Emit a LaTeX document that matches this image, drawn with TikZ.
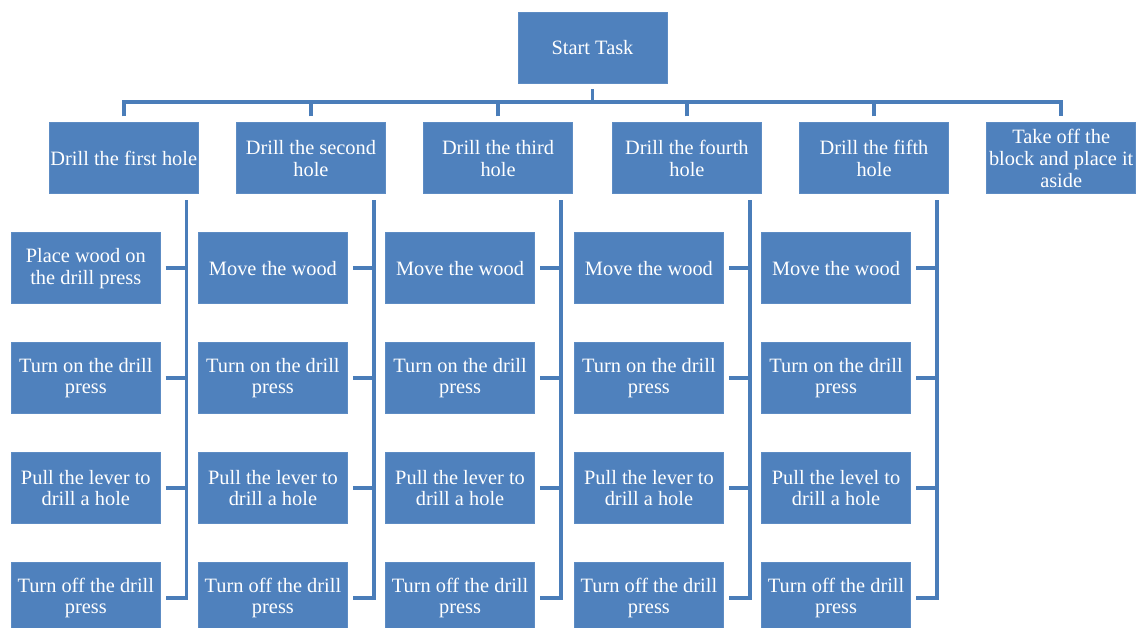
\documentclass[tikz,border=0pt]{standalone}
\usepackage{fontspec}
\setmainfont{Liberation Serif}
\usepackage{tikz}
\usetikzlibrary{positioning,calc}

\definecolor{wbsblue}{HTML}{4F81BD}
\definecolor{wbsedge}{HTML}{5D8CC4}
\definecolor{wbsline}{HTML}{4A7DB9}

\begin{document}
\begin{tikzpicture}[
    node distance=0.76cm and 0.745cm,
    mainbox/.style={rectangle, draw=wbsedge, line width=0.5pt, fill=wbsblue, text=white,
        minimum width=2.98cm, minimum height=1.42cm, inner sep=0pt, align=center,
        font=\fontsize{11.6}{12.4}\selectfont},
    holebox/.style={mainbox},
    actbox/.style={mainbox},
    link/.style={draw=wbsline, line width=2pt},
]
    \useasboundingbox (-11.85,0.95) rectangle (10.95,-11.61);

    % Top task
    \node[mainbox] (start) {Start Task};

    % Hole steps
    \node[holebox, below left=0.78cm and 0.39cm of start.south, anchor=north east] (hole3) {Drill the third\\hole};
    \node[holebox, left=of hole3] (hole2) {Drill the second\\hole};
    \node[holebox, left=of hole2] (hole1) {Drill the first hole};
    \node[holebox, below right=0.78cm and 0.39cm of start.south, anchor=north west] (hole4) {Drill the fourth\\hole};
    \node[holebox, right=of hole4] (hole5) {Drill the fifth\\hole};
    \node[holebox, right=of hole5] (aside) {Take off the\\block and place it\\aside};

    % First hole
    \node[actbox, below left=0.76cm and 0.76cm of hole1.south east, anchor=north east] (act11) {Place wood on\\the drill press};
    \node[actbox, below=of act11] (act12) {Turn on the drill\\press};
    \node[actbox, below=of act12] (act13) {Pull the lever to\\drill a hole};
    \node[actbox, below=of act13] (act14) {Turn off the drill\\press};

    % Second hole
    \node[actbox, below left=0.76cm and 0.76cm of hole2.south east, anchor=north east] (act21) {Move the wood};
    \node[actbox, below=of act21] (act22) {Turn on the drill\\press};
    \node[actbox, below=of act22] (act23) {Pull the lever to\\drill a hole};
    \node[actbox, below=of act23] (act24) {Turn off the drill\\press};

    % Third hole
    \node[actbox, below left=0.76cm and 0.76cm of hole3.south east, anchor=north east] (act31) {Move the wood};
    \node[actbox, below=of act31] (act32) {Turn on the drill\\press};
    \node[actbox, below=of act32] (act33) {Pull the lever to\\drill a hole};
    \node[actbox, below=of act33] (act34) {Turn off the drill\\press};

    % Fourth hole
    \node[actbox, below left=0.76cm and 0.76cm of hole4.south east, anchor=north east] (act41) {Move the wood};
    \node[actbox, below=of act41] (act42) {Turn on the drill\\press};
    \node[actbox, below=of act42] (act43) {Pull the lever to\\drill a hole};
    \node[actbox, below=of act43] (act44) {Turn off the drill\\press};

    % Fifth hole
    \node[actbox, below left=0.76cm and 0.76cm of hole5.south east, anchor=north east] (act51) {Move the wood};
    \node[actbox, below=of act51] (act52) {Turn on the drill\\press};
    \node[actbox, below=of act52] (act53) {Pull the level to\\drill a hole};
    \node[actbox, below=of act53] (act54) {Turn off the drill\\press};

    % Bus from the top task
    \coordinate (bus) at ([yshift=-0.37cm]start.south);
    \draw[link] ([yshift=-0.12cm]start.south) -- (bus);
    \draw[link] ([yshift=0.12cm]hole1.north) |- (bus -| aside.north) -- ([yshift=0.12cm]aside.north);
    \foreach \h in {2,...,5}
        \draw[link] ([yshift=0.12cm]hole\h.north) -- (hole\h.north |- bus);

    % Activity connectors
    \foreach \h in {1,...,5}{
        \coordinate (top\h) at ([xshift=-0.24cm,yshift=-0.12cm]hole\h.south east);
        \draw[link] (top\h) |- ([xshift=0.1cm]act\h4.east);
        \foreach \a in {1,2,3}
            \draw[link] ([xshift=0.1cm]act\h\a.east) -- (act\h\a.east -| top\h);
    }

\end{tikzpicture}
\end{document}
